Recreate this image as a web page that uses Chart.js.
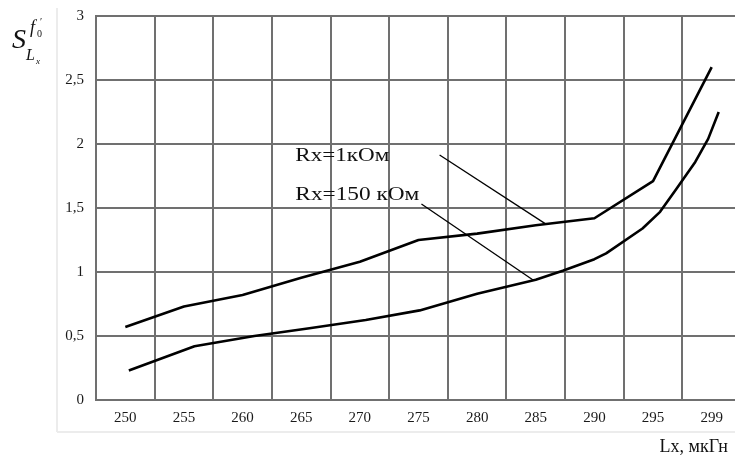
<!DOCTYPE html>
<html><head><meta charset="utf-8">
<script src="https://cdn.jsdelivr.net/npm/chart.js@4"></script>
<style>html,body{margin:0;padding:0;overflow:hidden;background:#fff}</style>
</head><body>
<canvas id="c" width="745" height="455"></canvas>
<script>
// Category tick labels (x axis) and y ticks
const lxLabels = ['250','255','260','265','270','275','280','285','290','295','299'];
const yMin = 0, yMax = 3, yStep = 0.5;

// Series Rx = 1 kOhm (x in label-position units: 5 per cell, '299' cell at 300)
const rx1X = [250, 255, 260, 265, 270, 275, 280, 285, 290, 295, 300];
const rx1Y = [0.57, 0.73, 0.82, 0.955, 1.08, 1.25, 1.30, 1.365, 1.42, 1.71, 2.60];

// Series Rx = 150 kOhm
const rx150X = [250.3, 255.9, 261, 265.7, 270.5, 275.1, 280, 285, 287.3, 290, 291, 294.1, 295.6, 297, 298.6, 299.7, 300.6];
const rx150Y = [0.23, 0.42, 0.50, 0.56, 0.625, 0.70, 0.83, 0.94, 1.01, 1.10, 1.146, 1.34, 1.47, 1.65, 1.86, 2.04, 2.25];

// Leader lines for the annotations
const ptr1X = [276.8, 285.9], ptr1Y = [1.914, 1.372];
const ptr2X = [275.25, 284.77], ptr2Y = [1.531, 0.9375];

// Annotation texts
const notes = [
  {text: 'Rx=1кОм', x: 264.5, y: 1.906, w: 94},
  {text: 'Rx=150 кОм', x: 264.5, y: 1.60, w: 124}
];

const pts = (xs, ys) => xs.map((x, i) => ({x, y: ys[i]}));
const serif = "'Liberation Serif', 'DejaVu Serif', serif";

const lineDs = (xs, ys, w) => ({
  data: pts(xs, ys), xAxisID: 'xv', yAxisID: 'y',
  borderColor: '#000', borderWidth: w, pointRadius: 0, tension: 0,
  fill: false, borderJoinStyle: 'round', borderCapStyle: 'butt'
});

const deco = {
  id: 'deco',
  beforeDraw(chart) {
    const ctx = chart.ctx;
    ctx.save();
    ctx.strokeStyle = '#ececec';
    ctx.lineWidth = 2;
    ctx.beginPath();
    ctx.moveTo(57, 8); ctx.lineTo(57, 432);
    ctx.moveTo(57, 432); ctx.lineTo(745, 432);
    ctx.stroke();
    ctx.restore();
  },
  afterDraw(chart) {
    const ctx = chart.ctx;
    const xs = chart.scales.xv, ys = chart.scales.y;
    ctx.save();
    ctx.fillStyle = '#111';
    ctx.textBaseline = 'middle';
    ctx.textAlign = 'left';
    ctx.font = '19px ' + serif;
    notes.forEach(n => {
      const px = xs.getPixelForValue(n.x), py = ys.getPixelForValue(n.y);
      const mw = ctx.measureText(n.text).width;
      ctx.save();
      ctx.translate(px, py);
      ctx.scale(n.w / mw, 1);
      ctx.fillText(n.text, 0, 0);
      ctx.restore();
    });
    // x axis title
    ctx.textBaseline = 'alphabetic';
    ctx.textAlign = 'right';
    ctx.font = '18px ' + serif;
    ctx.fillText('Lx, мкГн', 728, 452);
    // y axis title S^{f0'}_{Lx}
    ctx.textAlign = 'left';
    ctx.font = 'italic 28px ' + serif;
    ctx.fillText('S', 12, 48);
    ctx.font = 'italic 18px ' + serif;
    ctx.fillText('f', 30, 33);
    ctx.font = '10px ' + serif;
    ctx.fillText('0', 37, 37);
    ctx.fillText('\u2032', 40, 25);
    ctx.font = 'italic 16px ' + serif;
    ctx.fillText('L', 26, 60);
    ctx.font = 'italic 9px ' + serif;
    ctx.fillText('x', 36, 64);
    ctx.restore();
  }
};

new Chart(document.getElementById('c'), {
  type: 'line',
  data: {
    labels: lxLabels,
    datasets: [
      lineDs(rx1X, rx1Y, 2.6),
      lineDs(rx150X, rx150Y, 2.6),
      lineDs(ptr1X, ptr1Y, 1.3),
      lineDs(ptr2X, ptr2Y, 1.3)
    ]
  },
  options: {
    responsive: false,
    animation: false,
    devicePixelRatio: 1,
    layout: {padding: {left: 0, right: 4, top: 0, bottom: 0}},
    plugins: {legend: {display: false}, tooltip: {enabled: false}},
    scales: {
      x: {
        type: 'category', labels: lxLabels, offset: true,
        grid: {offset: true, color: '#707070', lineWidth: 2, drawTicks: false},
        border: {color: '#707070', width: 2},
        ticks: {font: {family: serif, size: 15}, color: '#1a1a1a', padding: 9, maxRotation: 0, autoSkip: false},
        afterFit(s) { s.height = 55; }
      },
      xv: {type: 'linear', display: false, min: 247.5, max: 302.5},
      y: {
        min: yMin, max: yMax,
        ticks: {stepSize: yStep, font: {family: serif, size: 15}, color: '#1a1a1a', padding: 12,
          callback: v => String(v).replace('.', ',')},
        grid: {color: '#707070', lineWidth: 2, drawTicks: false},
        border: {color: '#707070', width: 2},
        afterFit(s) { s.width = 96; s.paddingTop = 16; }
      }
    }
  },
  plugins: [deco]
});
</script>
</body></html>
